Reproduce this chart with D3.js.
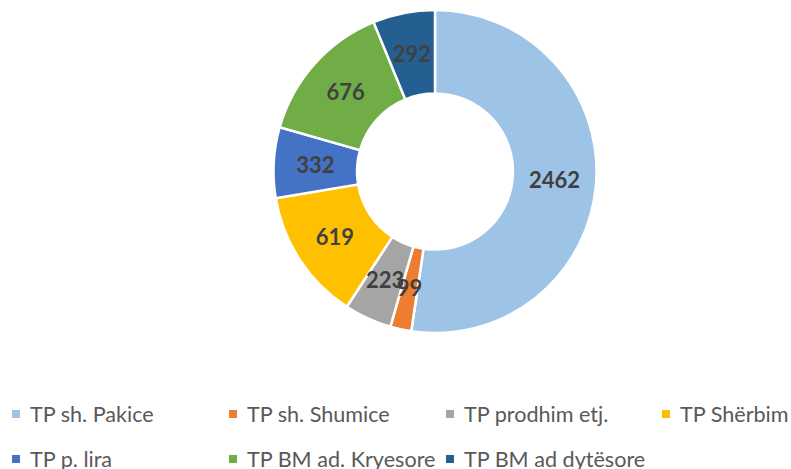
<!DOCTYPE html>
<html><head><meta charset="utf-8">
<script src="https://cdn.jsdelivr.net/npm/d3@7"></script>
<style>
html,body{margin:0;padding:0;background:#fff;}
svg{display:block;}
text{font-family:"Lato",sans-serif;}
</style></head>
<body>
<svg id="chart" width="791" height="469"></svg>
<script>
const categories = ["TP sh. Pakice","TP sh. Shumice","TP prodhim etj.","TP Shërbim","TP p. lira","TP BM ad. Kryesore","TP BM ad dytësore"];
const values = [2462, 99, 223, 619, 332, 676, 292];
const colors = ["#9DC3E6","#ED7D31","#A5A5A5","#FFC000","#4472C4","#70AD47","#255E91"];

const svg = d3.select("#chart");
const cx = 435, cy = 171.5, outerR = 161.5, innerR = 78;
const data = categories.map((c,i)=>({cat:c, value:values[i], color:colors[i]}));
const pie = d3.pie().value(d=>d.value).sort(null);
const arc = d3.arc().innerRadius(innerR).outerRadius(outerR);
const arcs = pie(data);
const g = svg.append("g").attr("transform",`translate(${cx},${cy})`);
g.selectAll("path").data(arcs).enter().append("path")
  .attr("d",arc).attr("fill",d=>d.data.color)
  .attr("stroke","#fff").attr("stroke-width",2.5).attr("stroke-linejoin","miter");
g.selectAll("text.lbl").data(arcs).enter().append("text")
  .attr("class","lbl")
  .attr("transform",d=>`translate(${arc.centroid(d)})`)
  .attr("text-anchor","middle").attr("dy","0.36em")
  .style("font-size","22px").style("font-weight","bold").attr("fill","#404040")
  .text(d=>d.data.value);

// legend
const colX = [12, 229, 446, 662];
const rowY = [414, 459];
const leg = svg.append("g");
data.forEach((d,i)=>{
  const col = i % 4, row = Math.floor(i/4);
  const x = colX[col], y = rowY[row];
  leg.append("rect").attr("x",x).attr("y",y-4).attr("width",8).attr("height",8).attr("fill",d.color);
  leg.append("text").attr("x",x+18).attr("y",y).attr("dy","0.36em")
    .style("font-size","21.6px").attr("fill","#595959").text(d.cat);
});
</script>
</body></html>
